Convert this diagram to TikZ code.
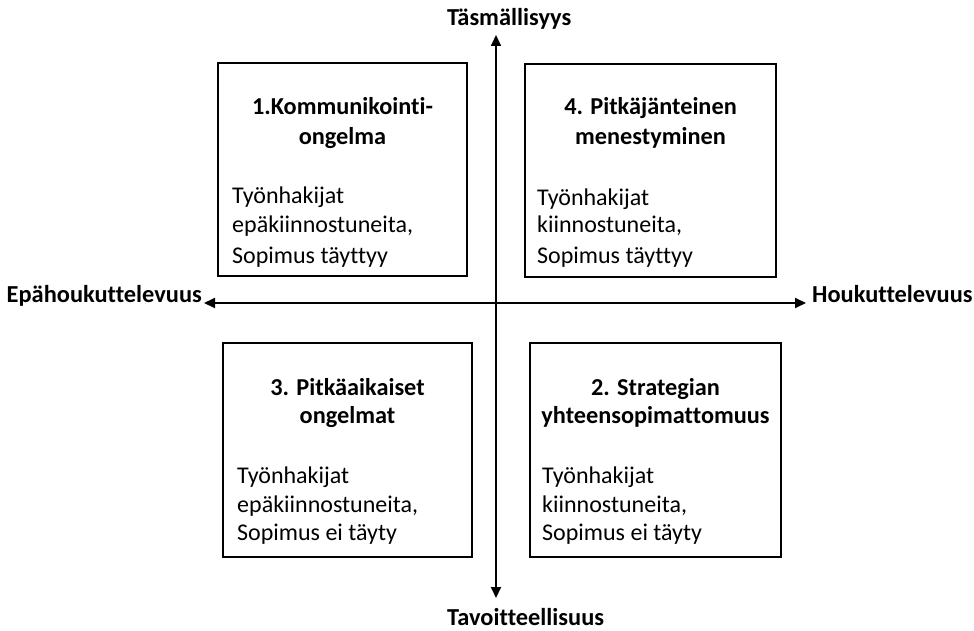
\documentclass[tikz,border=0pt]{standalone}
\usepackage{fontspec}
\setmainfont{Carlito}[Ligatures={NoCommon}]
\usetikzlibrary{arrows.meta}
\begin{document}
\begin{tikzpicture}[x=1pt,y=-1pt,
  quad/.style={draw=black,line width=1.8pt,inner sep=0pt},
  ttl/.style={anchor=base,inner sep=0pt,font=\fontsize{24.3}{28}\selectfont\bfseries},
  bdy/.style={anchor=base west,inner sep=0pt,font=\fontsize{24}{28}\selectfont},
  axlab/.style={anchor=base west,inner sep=0pt,font=\fontsize{24.4}{28}\selectfont\bfseries},
  axis/.style={line width=1.8pt,-{Triangle[length=11pt,width=10pt]}}]
\useasboundingbox (0,0) rectangle (974,631);
% boxes
\draw[quad] (218,63) rectangle (467,276);
\draw[quad] (525,64) rectangle (776,277);
\draw[quad] (223,343) rectangle (472,557);
\draw[quad] (530,343) rectangle (781,557);
% axes
\coordinate (c) at (496,303);
\coordinate (top) at (496,35);
\coordinate (bot) at (496,598);
\coordinate (lft) at (204,303);
\coordinate (rgt) at (806,303);
\draw[axis] (c) -- (top);
\draw[axis] (c) -- (bot);
\draw[axis] (c) -- (lft);
\draw[axis] (c) -- (rgt);
% axis labels
\node[axlab] (ly1) at (447,26) {Täsmällisyys};
\node[axlab] (ly2) at (447,625) {Tavoitteellisuus};
\node[axlab,anchor=base east] (lx1) at (202,302) {Epähoukuttelevuus};
\node[axlab] (lx2) at (812,302) {Houkuttelevuus};
% box 1
\node[ttl] (t1a) at (342.5,115) {1.Kommunikointi-};
\node[ttl] (t1b) at (342.5,145) {ongelma};
\node[bdy] (b1a) at (232,204) {Työnhakijat};
\node[bdy] (b1b) at (232,233) {epäkiinnostuneita,};
\node[bdy] (b1c) at (232,263) {Sopimus täyttyy};
% box 4
\node[ttl] (t4a) at (650.5,115) {4. Pitkäjänteinen};
\node[ttl] (t4b) at (650.5,145) {menestyminen};
\node[bdy] (b4a) at (537,205) {Työnhakijat};
\node[bdy] (b4b) at (537,233) {kiinnostuneita,};
\node[bdy] (b4c) at (537,263) {Sopimus täyttyy};
% box 3
\node[ttl] (t3a) at (347.5,395) {3. Pitkäaikaiset};
\node[ttl] (t3b) at (347.5,423) {ongelmat};
\node[bdy] (b3a) at (237,483) {Työnhakijat};
\node[bdy] (b3b) at (237,512) {epäkiinnostuneita,};
\node[bdy] (b3c) at (237,540) {Sopimus ei täyty};
% box 2
\node[ttl] (t2a) at (655.5,395) {2. Strategian};
\node[ttl] (t2b) at (655.5,423) {yhteensopimattomuus};
\node[bdy] (b2a) at (542,483) {Työnhakijat};
\node[bdy] (b2b) at (542,512) {kiinnostuneita,};
\node[bdy] (b2c) at (542,540) {Sopimus ei täyty};
\end{tikzpicture}
\end{document}
